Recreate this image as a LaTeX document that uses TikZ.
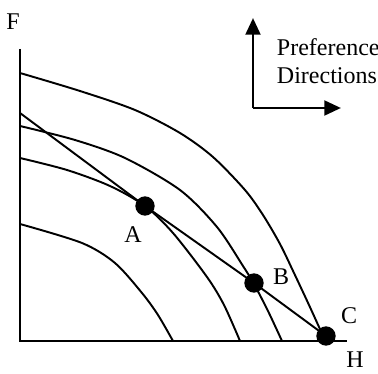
\documentclass[tikz,border=0pt]{standalone}
\usepackage{fontspec}
\setmainfont{Liberation Serif}
\usetikzlibrary{arrows.meta}

\begin{document}
\begin{tikzpicture}[x=0.75pt,y=-0.75pt,line width=1.45pt,
  dot/.style={circle,fill,inner sep=0pt,minimum size=14.5pt},
  lbl/.style={inner sep=0pt,font=\fontsize{18}{21}\selectfont},
  pref/.style={line width=2.2pt,-{Triangle[length=12.5pt,width=11pt]}}]
\useasboundingbox (0,0) rectangle (378,374);
% axes
\coordinate (O) at (20,341);
\coordinate (Ftop) at (20,49);
\coordinate (Hend) at (347,341);
\draw (Ftop)--(O)--(Hend);
\node[lbl] (F) at (13,22) {F};
\node[lbl] (H) at (355,360) {H};
% curves
\draw plot[smooth] coordinates {(20,73) (80,91) (135,110) (180,133) (213,157) (245,190) (263,215) (280,244) (294,273) (309,305) (324,338)};
\draw plot[smooth] coordinates {(20,126) (75,140) (125,158) (180,190) (217,227) (243,266) (254,284) (268,311) (282,341)};
\draw plot[smooth] coordinates {(20,158) (67,170) (110,186) (145,206) (173,233) (207,277) (224,305) (240,341)};
\draw plot[smooth] coordinates {(20,224) (82,243) (115,263) (142,293) (158,315) (173,341)};
% points and line
\node[dot] (A) at (145,206) {};
\node[dot] (B) at (254,283) {};
\node[dot] (C) at (326,336) {};
\coordinate (L) at (20,113);
\draw (L)--(A.center)--(B.center)--(C.center);
\node[lbl] (Alab) at (133,235) {A};
\node[lbl] (Blab) at (281,277) {B};
\node[lbl] (Clab) at (349,316) {C};
% preference directions
\coordinate (corner) at (253,108);
\coordinate (up) at (253,18);
\coordinate (right) at (341,108);
\draw[pref] (corner)--(up);
\draw[pref] (corner)--(right);
\node[lbl,anchor=west,align=left] (dirs) at (276,61) {Preference\\Directions};
\end{tikzpicture}
\end{document}
